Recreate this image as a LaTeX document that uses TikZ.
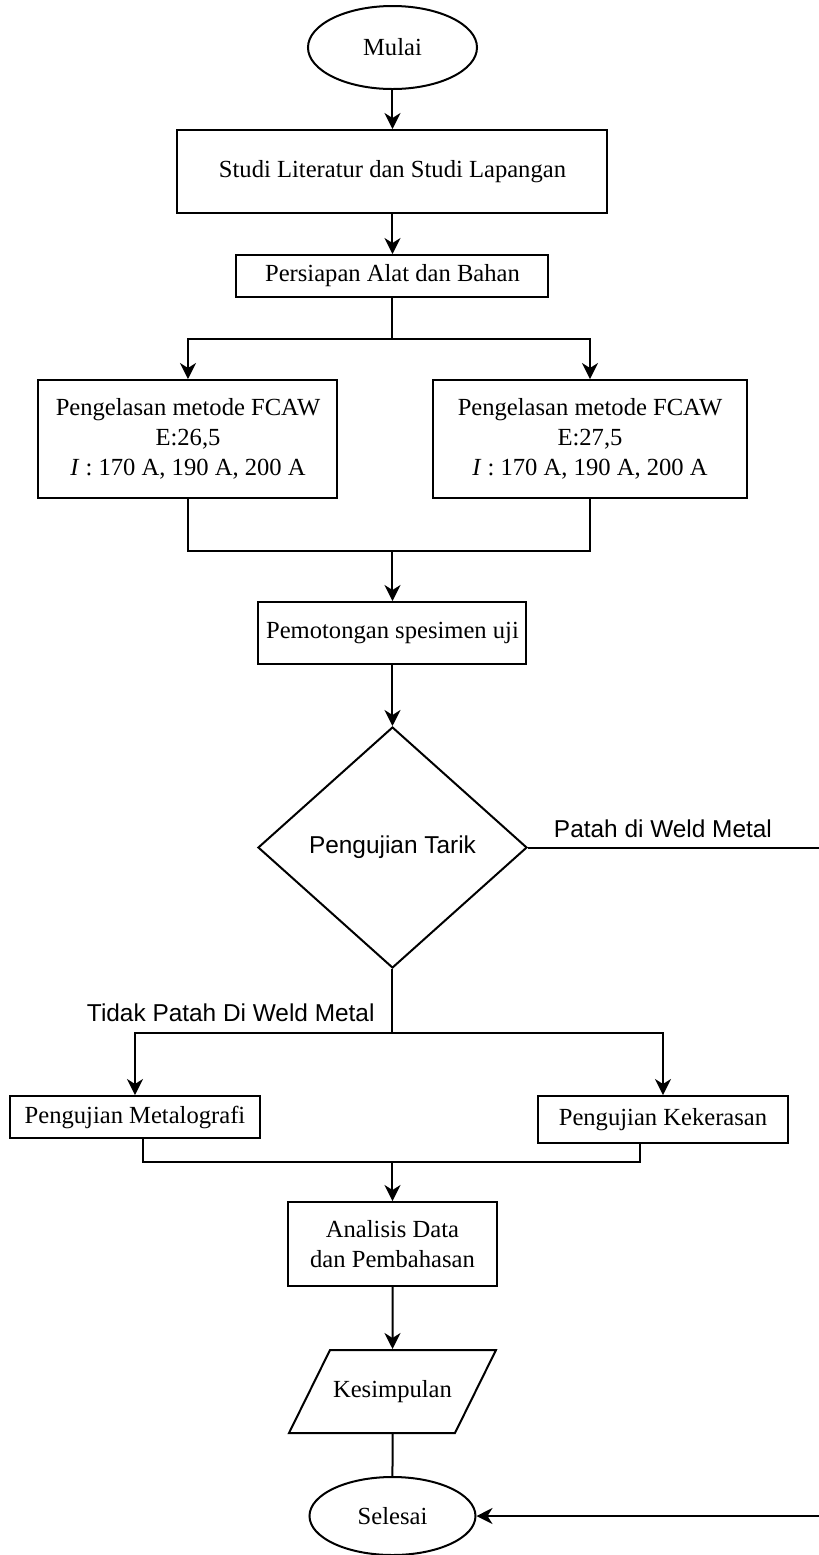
\documentclass[tikz,border=0pt]{standalone}
\usepackage{fontspec}
\setmainfont{Liberation Serif}
\setsansfont{Liberation Sans}
\usepackage{tikz}
\usetikzlibrary{shapes.geometric}
\usetikzlibrary{positioning, calc}
\usetikzlibrary{arrows.meta}

\begin{document}
\begin{tikzpicture}[node distance=2cm,on grid,line width=1pt,
	>={Stealth[length=8pt,width=8pt,inset=2.5pt]},
	txt/.style={font=\fontsize{12.3pt}{15pt}\selectfont},
	lbl/.style={font=\sffamily\fontsize{12.2pt}{14pt}\selectfont,inner sep=0pt},
	box/.style={draw,rectangle,txt,inner sep=2pt,align=center},
	term/.style={draw,ellipse,txt,inner sep=0pt},
	dec/.style={draw,diamond,lbl,inner sep=0pt},
	io/.style={draw,trapezium,trapezium left angle=63.7,trapezium right angle=116.3,
		trapezium stretches body,txt,inner xsep=0pt,inner ysep=15.25pt,
		text height=8.5pt,text depth=2.5pt}]
	\useasboundingbox (-196.25pt,23.75pt) rectangle (213.25pt,-753.75pt);
	\node[term,minimum width=84.5pt,minimum height=41.5pt] (mulai) {Mulai};
	\node[box,minimum width=215pt,minimum height=41.5pt] (studi) [below=62pt of mulai] {Studi Literatur dan Studi Lapangan};
	\node[box,minimum width=156pt,minimum height=21pt] (siap) [below=52.25pt of studi] {Persiapan Alat dan Bahan};
	\node[box,minimum width=149.5pt,minimum height=59pt] (las_1) [below left=81.5pt and 102.25pt of siap] {Pengelasan metode FCAW\\ E:26,5\\ \textit{I} : 170 A, 190 A, 200 A};
	\node[box,minimum width=156.5pt,minimum height=59pt] (las_2) [below right=81.5pt and 98.75pt of siap] {Pengelasan metode FCAW\\ E:27,5\\ \textit{I} : 170 A, 190 A, 200 A};
	\node[box,minimum width=134pt,minimum height=31pt] (potong) [below=178.5pt of siap] {Pemotongan spesimen uji};
	\node[dec,minimum width=134.5pt,minimum height=120.5pt] (tarik) [below=107.25pt of potong] {Pengujian Tarik};
	\node[box,minimum width=125pt,minimum height=21pt] (uji_1) [below left=134.75pt and 128.75pt of tarik] {Pengujian Metalografi};
	\node[box,minimum width=125pt,minimum height=23.5pt] (uji_2) [below right=136pt and 135.25pt of tarik] {Pengujian Kekerasan};
	\node[box,minimum width=104.5pt,minimum height=42pt] (analisis) [below=198.25pt of tarik] {Analisis Data\\ dan Pembahasan};
	\node[io,minimum width=103.5pt] (simpul) [below=73.75pt of analisis] {Kesimpulan};
	\node[term,minimum width=83pt,minimum height=39pt] (selesai) [below=62.25pt of simpul] {Selesai};
	\path[->]
	(mulai) edge (studi)
	(studi) edge (siap)
	(potong) edge (tarik)
	(analisis) edge (simpul);
	\draw (simpul) -- (selesai);
	% cabang ke dua pengelasan
	\draw[->] (siap.south) -- ++(0,-20.5pt) coordinate (cab_1) -| (las_1.north);
	\draw[->] (cab_1) -| (las_2.north);
	\draw (las_1.south) -- ++(0,-26pt) coordinate (gab_1) -| (las_2.south);
	\draw[->] (gab_1 -| potong) -- (potong);
	% hasil uji tarik
	\draw[->] (tarik.east) -- ++(149pt,0) |- (selesai.east);
	\node[lbl,anchor=base west] (patah) at ($(tarik.east)+(12.5pt,5pt)$) {Patah di Weld Metal};
	\draw (tarik.south) -- ++(0,-32pt) coordinate (cab_2);
	\node[lbl,anchor=base east] (tidak) at ($(cab_2)+(-8.5pt,6pt)$) {Tidak Patah Di Weld Metal};
	\draw[->] (cab_2) -| (uji_1.north);
	\draw[->] (cab_2) -| (uji_2.north);
	\draw ($(uji_1.south)+(4pt,0)$) -- ++(0,-11.5pt) coordinate (gab_2) -| ($(uji_2.south)+(-11.5pt,0)$);
	\draw[->] (gab_2 -| analisis) -- (analisis);
\end{tikzpicture}
\end{document}
